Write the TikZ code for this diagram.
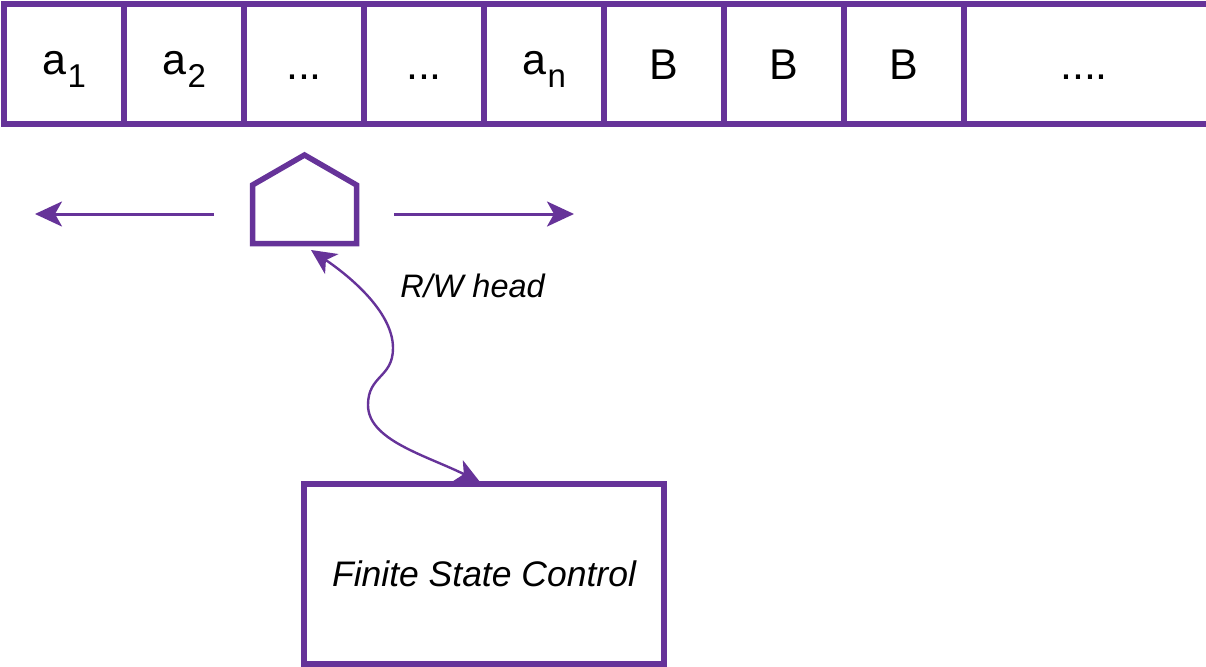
\documentclass[tikz,border=0pt]{standalone}
\usepackage{fontspec}
\setmainfont{Liberation Sans}
\usetikzlibrary{arrows.meta,calc}
\definecolor{pur}{RGB}{102,51,153}
\newcommand\tapesub[2]{\raisebox{4.5pt}{#1}\kern1.5pt\raisebox{-8pt}{\fontsize{33}{33}\selectfont #2}}
\begin{document}
\begin{tikzpicture}[x=1pt,y=-1pt,
  cell/.style={draw=pur,line width=5.5pt,minimum width=120pt,minimum height=120pt,
    inner sep=0pt,outer sep=0pt,text height=31pt,text depth=0pt,
    font=\fontsize{43}{43}\selectfont},
  cellopen/.style={cell,draw=none},
  tapeline/.style={draw=pur,line width=5.5pt},
  moveline/.style={draw=pur,line width=3pt,-{Stealth[length=27pt,width=25pt,inset=7pt]}},
  linkline/.style={draw=pur,line width=2.4pt,
    {Stealth[length=25pt,width=24pt,inset=7pt]}-{Stealth[length=25pt,width=24pt,inset=7pt]}},
  headbox/.style={draw=none,minimum width=104pt,minimum height=58.5pt,inner sep=0pt,outer sep=0pt},
  headline/.style={draw=pur,line width=5.5pt,line join=miter},
  fscbox/.style={draw=pur,line width=5.5pt,minimum width=360pt,minimum height=180pt,
    inner sep=0pt,outer sep=0pt,font=\fontsize{35.5}{35.5}\selectfont\itshape,
    text height=25.4pt,text depth=0pt},
  lbl/.style={inner sep=0pt,font=\fontsize{32.5}{32.5}\selectfont\itshape,text height=23.3pt,text depth=0pt}
]
\useasboundingbox (0,0) rectangle (1206,666);
% tape
\node[cell] (c1) at (64,64) {\tapesub{a}{1}};
\node[cell] (c2) at (184,64) {\tapesub{a}{2}};
\node[cell] (c3) at (304,64) {...};
\node[cell] (c4) at (424,64) {...};
\node[cell] (c5) at (544,64) {\tapesub{a}{n}};
\node[cell] (c6) at (664,64) {B};
\node[cell] (c7) at (784,64) {B};
\node[cell] (c8) at (904,64) {B};
\node[cellopen] (c9) at (1084,64) {....};
\coordinate (tend) at (1206,64);
\draw[tapeline] (c8.north east) -- (c8.north east -| tend);
\draw[tapeline] (c8.south east) -- (c8.south east -| tend);
% head
\node[headbox] (head) at (304.5,214.25) {};
\draw[headline] (head.north west) -- (head.south west) -- (head.south east)
  -- (head.north east) -- ($(head.north)+(0,-30)$) -- cycle;
% movement arrows
\coordinate (ls) at (214,214);
\coordinate (lt) at (35,214);
\coordinate (rs) at (394,214);
\coordinate (rt) at (574,214);
\draw[moveline] (ls) -- (lt);
\draw[moveline] (rs) -- (rt);
% finite state control
\node[fscbox] (fsc) at (484,574) {Finite State Control};
\node[lbl] (rw) at (472.5,286) {R/W head};
% link
\draw[linkline] ($(head.south)+(6.5,6.5)$)
  .. controls (345,273) and (393,310) .. (393,348)
  .. controls (393,378) and (368,375) .. (368,405)
  .. controls (368,440) and (425,455) .. ($(fsc.north)+(-4,-2)$);
\end{tikzpicture}
\end{document}
